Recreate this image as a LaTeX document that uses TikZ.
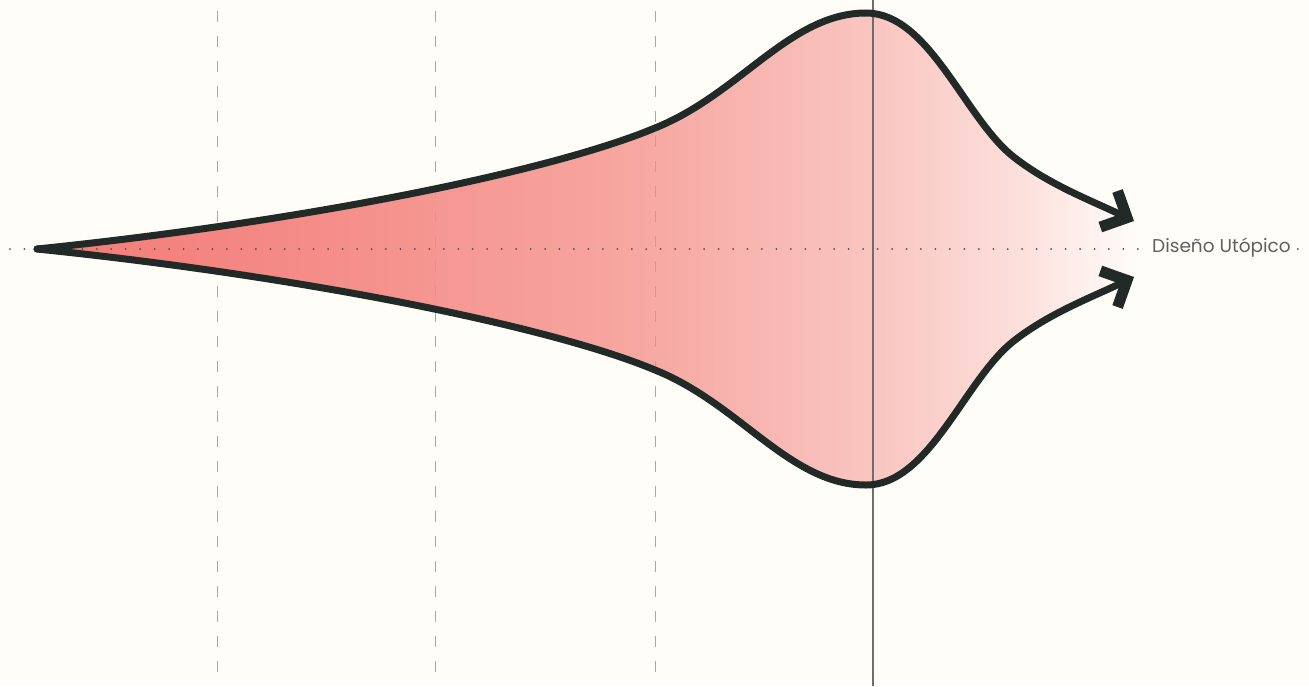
\documentclass[tikz,border=0pt]{standalone}
\usepackage{fontspec}
\newfontfamily\labelfont{Poppins}
\usetikzlibrary{arrows.meta}
\definecolor{bg}{HTML}{FFFDF8}
\definecolor{ink}{HTML}{222A27}
\definecolor{gridgrey}{HTML}{A8A8A8}
\definecolor{axisgrey}{HTML}{6E6E6E}
\definecolor{dotgrey}{HTML}{505050}
\definecolor{txtgrey}{HTML}{606060}
\definecolor{cA}{HTML}{F37B78}
\definecolor{cB}{HTML}{F48884}
\definecolor{cC}{HTML}{F7A7A1}
\definecolor{cD}{HTML}{F9C5C0}
\definecolor{cE}{HTML}{FCDCD8}
\definecolor{cF}{HTML}{FFFBF9}
\pgfdeclarehorizontalshading{petal}{100bp}{color(0bp)=(cA); color(25bp)=(cA); color(35bp)=(cB); color(52.5bp)=(cC); color(63bp)=(cD); color(69bp)=(cE); color(75bp)=(cF); color(100bp)=(cF)}
\tikzset{
  outline/.style={draw=ink, line width=7pt, line cap=round, line join=round,
    -{Straight Barb[sharp, length=20pt, width=40pt, line width=11pt]}},
  gridline/.style={draw=gridgrey, line width=1pt, dash pattern=on 11pt off 14pt},
  axisline/.style={draw=axisgrey, line width=1.4pt},
  dotline/.style={draw=dotgrey, line width=2pt, line cap=round, dash pattern=on 0pt off 14.46pt},
}
\begin{document}
\begin{tikzpicture}[x=1pt,y=-1pt]
\fill[bg] (0,0) rectangle (1309,686);
\useasboundingbox (0,0) rectangle (1309,686);
% coordinates
\coordinate (tip) at (37,249);
\coordinate (uend) at (1134,221);
\coordinate (lend) at (1134,277);
% fill
\shade[shading=petal] (tip) .. controls (300,222) and (550,172) .. (655,128)
  .. controls (740,94) and (790,13) .. (866,13)
  .. controls (930,13) and (965,120) .. (1015,158)
  .. controls (1050,185) and (1090,200) .. (uend)
  -- (lend)
  .. controls (1090,298) and (1050,313) .. (1015,340)
  .. controls (965,378) and (930,485) .. (866,485)
  .. controls (790,485) and (740,404) .. (655,370)
  .. controls (550,326) and (300,276) .. (tip) -- cycle;
% grid lines
\coordinate (g1t) at (217,11); \coordinate (g1b) at (217,686);
\coordinate (g2t) at (435,11); \coordinate (g2b) at (435,686);
\coordinate (g3t) at (655,11); \coordinate (g3b) at (655,686);
\draw[gridline] (g1t) -- (g1b);
\draw[gridline] (g2t) -- (g2b);
\draw[gridline] (g3t) -- (g3b);
\coordinate (at) at (873,0); \coordinate (ab) at (873,686);
\draw[axisline] (at) -- (ab);
% dotted axis and label
\coordinate (d0) at (10,249); \coordinate (d1) at (1139,249);
\draw[dotline] (d0) -- (d1);
\node[anchor=west, inner sep=0pt, text=txtgrey, font=\labelfont\fontsize{18.5}{18.5}\selectfont] (lbl) at (1152,248) {Diseño Utópico};
\fill[dotgrey] ([xshift=7pt]lbl.east |- d0) circle (1pt) coordinate (dlast);
% outlines
\draw[outline] (tip) .. controls (300,222) and (550,172) .. (655,128)
  .. controls (740,94) and (790,13) .. (866,13)
  .. controls (930,13) and (965,120) .. (1015,158)
  .. controls (1050,185) and (1090,200) .. (uend);
\draw[outline] (tip) .. controls (300,276) and (550,326) .. (655,370)
  .. controls (740,404) and (790,485) .. (866,485)
  .. controls (930,485) and (965,378) .. (1015,340)
  .. controls (1050,313) and (1090,298) .. (lend);
\end{tikzpicture}
\end{document}
